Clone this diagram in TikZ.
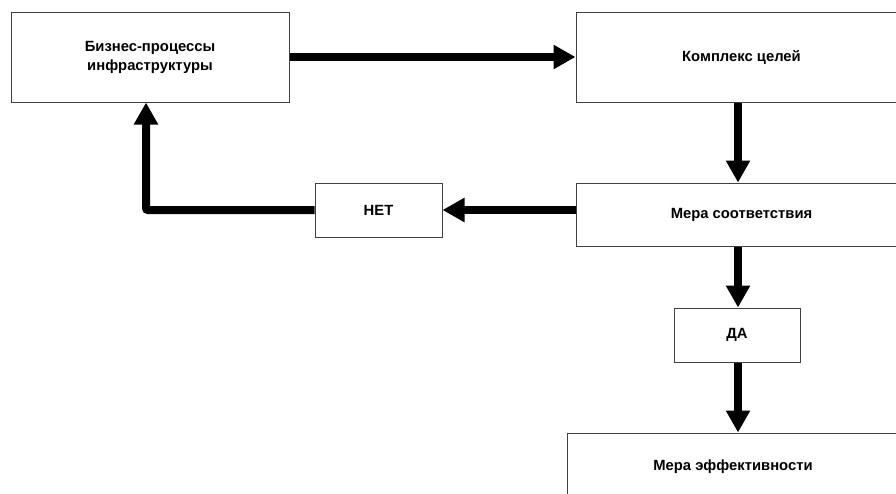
\documentclass[tikz,border=0pt]{standalone}
\usepackage{fontspec}
\setmainfont{Liberation Sans}
\usetikzlibrary{arrows.meta}
\begin{document}
\begin{tikzpicture}[x=1pt,y=-1pt,
  box/.style={draw=black!75,line width=1pt,fill=white,rectangle,inner sep=0pt,
    font=\fontsize{14.8}{19}\selectfont\bfseries,align=center},
  flow/.style={line width=8pt,-{Triangle[length=22pt,width=23pt]}}]
\useasboundingbox (0,0) rectangle (896,493);
\clip (0,0) rectangle (896,493);
\fill[white] (0,0) rectangle (896,493);
\node[box,minimum width=278pt,minimum height=90pt] (bp) at (150,57) {Бизнес-процессы\\инфраструктуры};
\node[box,minimum width=331pt,minimum height=90pt] (kc) at (741.5,57) {Комплекс целей};
\node[box,minimum width=331pt,minimum height=63pt] (ms) at (741.5,214.5) {Мера соответствия};
\node[box,minimum width=127pt,minimum height=54pt] (net) at (378.5,210) {НЕТ};
\node[box,minimum width=126pt,minimum height=54pt] (da) at (737,335) {ДА};
\node[box,minimum width=332pt,minimum height=68pt] (me) at (733,467) {Мера эффективности};
\coordinate (corner) at (146,210);
\draw[flow] (bp.east) -- (kc.west);
\draw[flow] (kc.south -| 738,0) -- (ms.north -| 738,0);
\draw[flow] (ms.west |- net) -- (net.east);
\draw[flow,rounded corners=2pt] (net.west) -- (corner) -- (bp.south -| corner);
\draw[flow] (ms.south -| 738,0) -- (da.north -| 738,0);
\draw[flow] (da.south -| 738,0) -- (me.north -| 738,0);
\end{tikzpicture}
\end{document}
